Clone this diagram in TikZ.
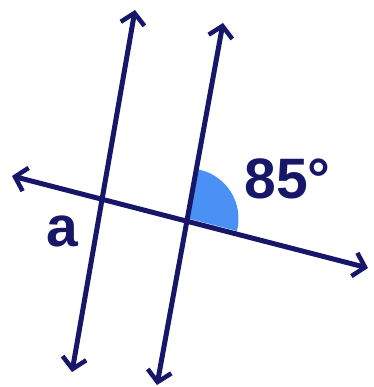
\documentclass[tikz,border=0pt]{standalone}
\usepackage{fontspec}
\setmainfont{Liberation Sans}
\usetikzlibrary{arrows.meta}
\definecolor{navy}{HTML}{17176A}
\definecolor{angblue}{HTML}{4A90F5}
\begin{document}
\begin{tikzpicture}[x=1pt,y=-1pt,
  lineseg/.style={draw=navy,line width=5pt,{Straight Barb[length=11pt,width=24pt,line width=4.5pt]}-{Straight Barb[length=11pt,width=24pt,line width=4.5pt]}},
  lbl/.style={text=navy,font=\fontsize{57}{60}\selectfont\bfseries,inner sep=0pt}]
\useasboundingbox (0,0) rectangle (373,387);
\coordinate (p1b) at (72,372);
\coordinate (p1t) at (135,10);
\coordinate (p2b) at (157,385);
\coordinate (p2t) at (223,23);
\coordinate (tl) at (12,176);
\coordinate (tr) at (368,268);
\coordinate (X) at (188.5,218.5);
% angle fill
\fill[angblue] (X) -- ++(-79.7:50) arc[start angle=-79.7,end angle=14.5,radius=50] -- cycle;
\draw[lineseg] (p1b) -- (p1t);
\draw[lineseg] (p2b) -- (p2t);
\draw[lineseg] (tl) -- (tr);
\node[lbl] (ang) at (287.5,178.5) {85°};
\node[lbl] (a) at (62,231) {a};
\end{tikzpicture}
\end{document}
